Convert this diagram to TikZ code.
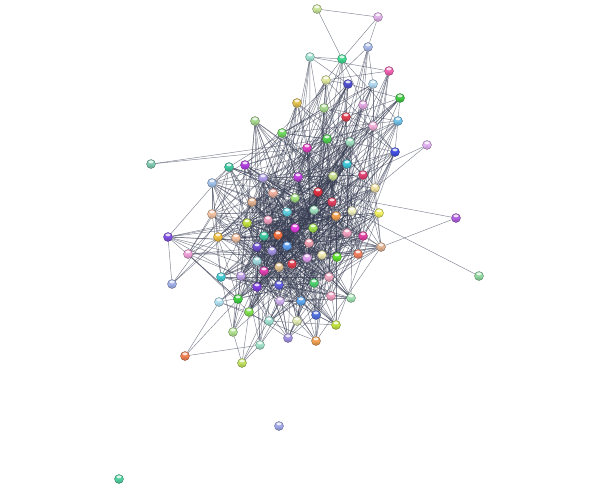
\documentclass[tikz,border=0pt]{standalone}
\pgfdeclarelayer{bg}
\pgfsetlayers{bg,main}
\begin{document}
\begin{tikzpicture}[x=1pt,y=-1pt,
  edge/.style={draw={rgb,255:red,50;green,56;blue,78}, line width=0.45pt, opacity=0.62},
  prot/.style={circle, fill=#1, draw=#1!55!black, line width=0.35pt, minimum size=9pt, inner sep=0pt,
    path picture={\fill[white,opacity=0.8] ([yshift=-2.4pt]path picture bounding box.north) ellipse (2.6pt and 1.5pt);
                  \fill[#1!70!black,opacity=0.35] ([yshift=1.6pt]path picture bounding box.south) ellipse (3pt and 1.6pt);}}]
\useasboundingbox (0,0) rectangle (599,488);
\foreach \i/\x/\y/\w/\c in {
1/317/9/0/C8E39A, 2/378/17/0/E0B0E8, 3/368/47/0.6/A8B8E8, 4/310/57/0.5/A0E0D0,
5/342/59/0.6/40D890, 6/389/71/0.6/F060B0, 7/326/80/0.6/E0E8A0, 8/348/84/0.8/5050D0,
9/373/84/0.7/B0D8F0, 10/400/98/0.6/40C840, 11/297/103/0.5/E0C050, 12/324/108/0.6/A8D890,
13/363/105/0.7/E0A8E0, 14/346/117/0.9/E04050, 15/255/121/0.5/A8D890, 16/373/126/0.7/F0B0D8,
17/398/121/0.6/70C0E8, 18/282/133/0.6/70D860, 19/327/139/0.8/50D050, 20/350/142/0.8/A0E0C0,
21/307/148/0.7/E040C0, 22/395/152/0.6/4050E0, 23/427/145/0/E0B0F0, 24/151/164/0/80C8B0,
25/229/167/0.6/40C8A0, 26/245/165/0.6/B040E0, 27/347/164/0.8/40C8D8, 28/212/183/0.7/A0C0E8,
29/263/178/0.8/B0A0E8, 30/298/177/0.9/C040E0, 31/333/176/0.9/C8E090, 32/363/175/0.8/E04070,
33/375/188/0.7/F0E0A0, 34/318/192/1/E03040, 35/273/193/0.9/F0B0A0, 36/295/198/1/A0E080,
37/252/202/0.9/E0B090, 38/332/202/1/E04060, 39/212/214/0.6/F0C0A0, 40/287/212/1/60D0E0,
41/314/210/1/A0E0C0, 42/352/211/0.9/F0F0C0, 43/379/213/0.6/F0F060, 44/336/216/1/F0A050,
45/456/218/0/B060E0, 46/247/223/0.9/C0E040, 47/268/220/1/F0A0C0, 48/295/228/1/E040E0,
49/313/228/1/A0E050, 50/168/237/0.5/8050E0, 51/218/237/0.7/F0C040, 52/236/238/0.9/F0C0A0,
53/264/236/1/40C8A0, 54/278/235/1/F07040, 55/309/243/1/F0A0B0, 56/347/233/0.9/F0A0C0,
57/363/236/0.8/E040A0, 58/257/247/1/7050D0, 59/272/251/1/A090E0, 60/287/246/1/60A0F0,
61/188/254/0.5/F0A0D8, 62/322/255/1/F0E8B0, 63/337/257/0.9/60E030, 64/358/254/0.8/F08060,
65/381/247/0.6/E0B090, 66/257/261/0.9/A0D8E0, 67/279/267/1/E0C090, 68/292/264/1/E04050,
69/307/258/1/E0A0F0, 70/264/271/0.9/E040B0, 71/241/276/0.8/C0A0E8, 72/221/277/0.6/40C8D0,
73/329/277/0.8/F0A8C0, 74/172/284/0.5/A0B0E8, 75/257/287/0.8/8040E0, 76/279/285/0.9/6060E0,
77/314/283/0.9/50D070, 78/479/276/0/90D8A0, 79/219/302/0.5/B0E0F0, 80/238/299/0.6/40D040,
81/249/312/0.5/80E050, 82/280/301/0.7/D0B0F0, 83/301/301/0.7/60A8F0, 84/331/296/0.6/F0A0C0,
85/351/298/0.5/A0E0B0, 86/269/321/0.5/A0E0D0, 87/297/321/0.5/E0E8B0, 88/316/315/0.6/5070E0,
89/336/325/0.5/C0E040, 90/233/332/0.4/B0E090, 91/288/338/0.5/A090E0, 92/260/345/0.4/A0E0C8,
93/316/341/0.5/F0A050, 94/185/356/0/F08050, 95/242/363/0/C0E060, 96/279/426/0/A0A8E8,
97/119/479/0/50D0A0}{
  \definecolor{tmpc}{HTML}{\c}
  \node[prot=tmpc] (n\i) at (\x,\y) {};
  \expandafter\xdef\csname px\i\endcsname{\x}
  \expandafter\xdef\csname py\i\endcsname{\y}
  \expandafter\xdef\csname pw\i\endcsname{\w}
}
\begin{pgfonlayer}{bg}
\pgfmathsetseed{271}
\foreach \i in {1,...,97}{
  \edef\aw{\csname pw\i\endcsname}
  \ifdim\aw pt>0pt
  \foreach \j in {1,...,97}{
    \ifnum\j>\i
      \edef\bw{\csname pw\j\endcsname}
      \ifdim\bw pt>0pt
        \edef\ax{\csname px\i\endcsname}\edef\ay{\csname py\i\endcsname}
        \edef\bx{\csname px\j\endcsname}\edef\by{\csname py\j\endcsname}
        \pgfmathsetmacro\pp{1.0*\aw*\bw*exp(-veclen(\ax-\bx,\ay-\by)/110)}
        \pgfmathsetmacro\rr{rnd}
        \ifdim\rr pt<\pp pt \draw[edge] (n\i) -- (n\j); \fi
      \fi
    \fi
  }
  \fi
}
\foreach \a/\b in {1/2,1/5,2/3,2/5,24/19,24/21,45/34,45/65,78/42,23/33,23/32,
  94/79,94/80,94/92,95/90,95/81,95/86,95/92,95/76,4/5}{
  \draw[edge] (n\a) -- (n\b);
}
\end{pgfonlayer}
\end{tikzpicture}
\end{document}
